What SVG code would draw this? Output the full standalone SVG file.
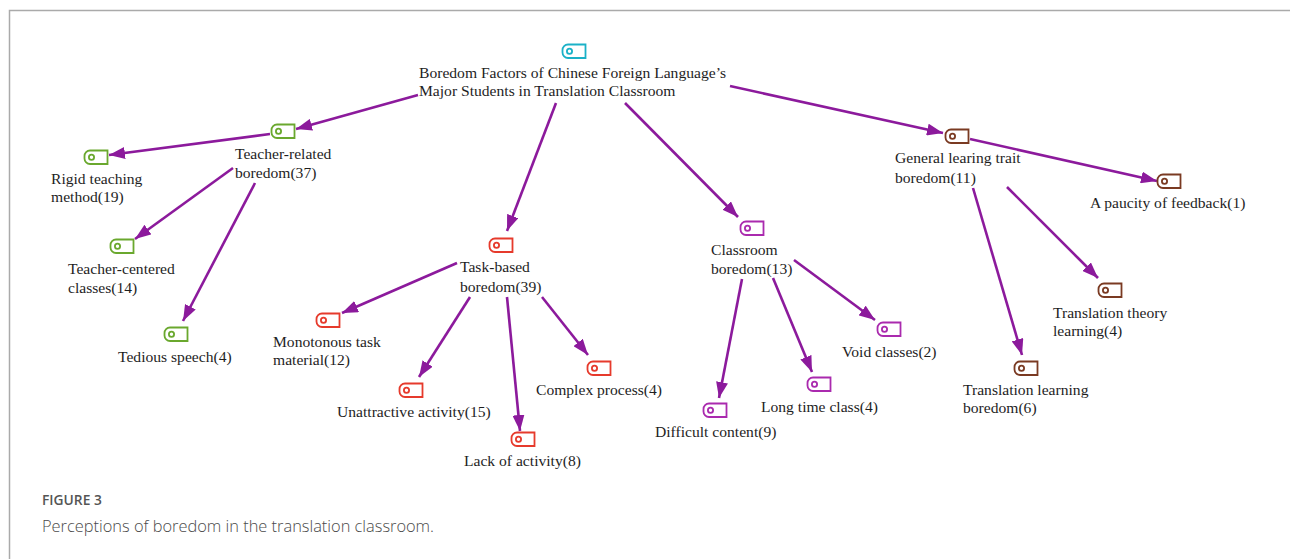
<svg xmlns="http://www.w3.org/2000/svg" width="1290" height="559" viewBox="0 0 1290 559">
<defs>
<style>
.t{font-family:"Liberation Serif","Times New Roman",serif;font-size:15.6px;fill:#1e1e1e}
.c line{stroke:#8c1a9c;stroke-width:2.6;marker-end:url(#ah)}
.ic{fill:#fff;stroke-width:1.8}
.cy{stroke:#1bb1c7}.gr{stroke:#6aa82e}.rd{stroke:#e63a2c}.pu{stroke:#aa2aae}.br{stroke:#7a3a22}
</style>
<marker id="ah" markerUnits="userSpaceOnUse" markerWidth="17" markerHeight="12" refX="16" refY="6" orient="auto">
<path d="M0,0 L16,6 L0,12 Z" fill="#8c1a9c"/>
</marker>
<g id="tag">
<path d="M6,0.5 H23.5 V14 H6 A5.5,5.5 0 0 1 0.5,8.5 V6 A5.5,5.5 0 0 1 6,0.5 Z"/>
<circle cx="7.5" cy="7.3" r="2.6"/>
</g>
</defs>
<rect width="1290" height="559" fill="#fff"/>
<path d="M9.5,559 V10.5 H1290" fill="none" stroke="#aaa" stroke-width="1.5"/>

<g class="c" id="connectors">
<line x1="418" y1="95" x2="296" y2="129"/>
<line x1="270" y1="134" x2="109" y2="155"/>
<line x1="233" y1="168" x2="135" y2="239"/>
<line x1="255" y1="183" x2="183" y2="321"/>
<line x1="556" y1="103" x2="507" y2="231"/>
<line x1="457" y1="263" x2="342" y2="313"/>
<line x1="470" y1="297" x2="419" y2="377"/>
<line x1="507" y1="297" x2="520" y2="431"/>
<line x1="542" y1="297" x2="588" y2="355"/>
<line x1="625" y1="103" x2="738" y2="217"/>
<line x1="742" y1="279" x2="719" y2="398"/>
<line x1="773" y1="278" x2="812" y2="372"/>
<line x1="794" y1="260" x2="875" y2="320"/>
<line x1="730" y1="86" x2="943" y2="133"/>
<line x1="970" y1="139" x2="1157" y2="181"/>
<line x1="973" y1="188" x2="1022" y2="355"/>
<line x1="1007" y1="187" x2="1098" y2="278"/>
</g>

<g id="root">
<use href="#tag" class="ic cy" x="562" y="44"/>
<text class="t" x="419" y="78">Boredom Factors of Chinese Foreign Language’s</text>
<text class="t" x="419" y="96">Major Students in Translation Classroom</text>
</g>

<g id="teacher-related">
<use href="#tag" class="ic gr" x="271" y="124"/>
<text class="t" x="235" y="159">Teacher-related</text>
<text class="t" x="235" y="178">boredom(37)</text>
</g>
<g id="rigid">
<use href="#tag" class="ic gr" x="84" y="150"/>
<text class="t" x="51" y="184">Rigid teaching</text>
<text class="t" x="51" y="202">method(19)</text>
</g>
<g id="teacher-centered">
<use href="#tag" class="ic gr" x="110" y="239"/>
<text class="t" x="68" y="274">Teacher-centered</text>
<text class="t" x="68" y="293">classes(14)</text>
</g>
<g id="tedious">
<use href="#tag" class="ic gr" x="164" y="327"/>
<text class="t" x="118" y="362">Tedious speech(4)</text>
</g>

<g id="task-based">
<use href="#tag" class="ic rd" x="489" y="238"/>
<text class="t" x="460" y="272">Task-based</text>
<text class="t" x="460" y="292">boredom(39)</text>
</g>
<g id="monotonous">
<use href="#tag" class="ic rd" x="316" y="313"/>
<text class="t" x="273" y="347">Monotonous task</text>
<text class="t" x="273" y="365">material(12)</text>
</g>
<g id="unattractive">
<use href="#tag" class="ic rd" x="399" y="383"/>
<text class="t" x="337" y="417">Unattractive activity(15)</text>
</g>
<g id="lack">
<use href="#tag" class="ic rd" x="511" y="432"/>
<text class="t" x="464" y="466">Lack of activity(8)</text>
</g>
<g id="complex">
<use href="#tag" class="ic rd" x="587" y="361"/>
<text class="t" x="536" y="395">Complex process(4)</text>
</g>

<g id="classroom">
<use href="#tag" class="ic pu" x="740" y="221"/>
<text class="t" x="711" y="255">Classroom</text>
<text class="t" x="711" y="274">boredom(13)</text>
</g>
<g id="void">
<use href="#tag" class="ic pu" x="877" y="322"/>
<text class="t" x="842" y="357">Void classes(2)</text>
</g>
<g id="long-time">
<use href="#tag" class="ic pu" x="807" y="377"/>
<text class="t" x="761" y="412">Long time class(4)</text>
</g>
<g id="difficult">
<use href="#tag" class="ic pu" x="703" y="403"/>
<text class="t" x="655" y="437">Difficult content(9)</text>
</g>

<g id="general">
<use href="#tag" class="ic br" x="945" y="129"/>
<text class="t" x="895" y="163">General learing trait</text>
<text class="t" x="895" y="183">boredom(11)</text>
</g>
<g id="paucity">
<use href="#tag" class="ic br" x="1157" y="174"/>
<text class="t" x="1090" y="208">A paucity of feedback(1)</text>
</g>
<g id="theory">
<use href="#tag" class="ic br" x="1098" y="283"/>
<text class="t" x="1053" y="318">Translation theory</text>
<text class="t" x="1053" y="336">learning(4)</text>
</g>
<g id="translation-learning">
<use href="#tag" class="ic br" x="1014" y="361"/>
<text class="t" x="963" y="395">Translation learning</text>
<text class="t" x="963" y="413">boredom(6)</text>
</g>

<g id="caption">
<text x="42" y="505" font-family="'Open Sans',sans-serif" font-size="13.8" font-weight="600" fill="#555">FIGURE 3</text>
<text x="42" y="532" font-family="'Open Sans',sans-serif" font-size="16.4" font-weight="300" fill="#4a4a4a">Perceptions of boredom in the translation classroom.</text>
</g>
</svg>
